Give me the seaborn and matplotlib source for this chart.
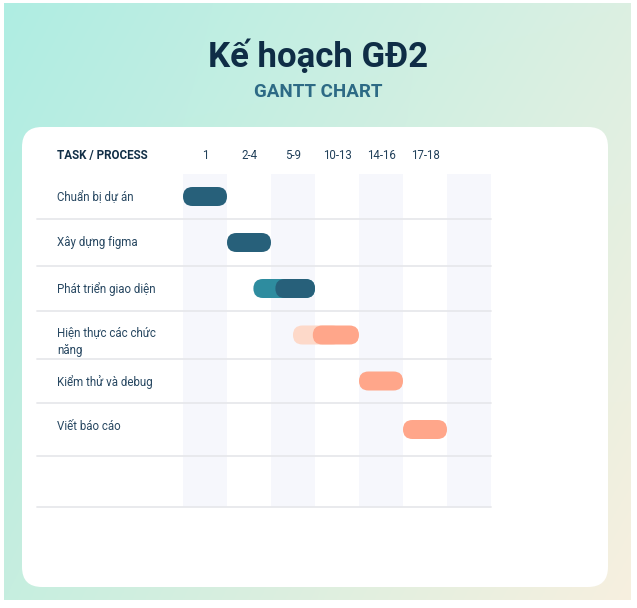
import numpy as np
import pandas as pd
import seaborn as sns
import matplotlib.pyplot as plt
from matplotlib.patches import FancyBboxPatch
from matplotlib.colors import to_rgb

# Data
tasks = ["Chuẩn bị dự án", "Xây dựng figma", "Phát triển giao diện",
         "Hiện thực các chức\nnăng", "Kiểm thử và debug", "Viết báo cáo"]
periods = ["1", "2-4", "5-9", "10-13", "14-16", "17-18"]
task_start = [0, 1, 2.1, 2.95, 4, 5]
task_end = [1, 2, 3, 4, 5, 6]
# lighter lead-in bars behind two of the tasks
lead_tasks = ["Phát triển giao diện", "Hiện thực các chức\nnăng"]
lead_start = [1.6, 2.5]
lead_end = [3.0, 3.6]

# Colours
DARK = "#27607a"
TEAL = "#2e8c9f"
PEACH = "#ffa68a"
LIGHT_PEACH = "#fdd9c9"
bar_colors = [DARK, DARK, DARK, PEACH, PEACH, PEACH]
lead_colors = [TEAL, LIGHT_PEACH]
STRIPE = "#f6f7fc"
RULE = "#e7e8ec"

# Layout (pixels)
W, H = 637, 608
N_COLS = 7
ROW_EDGES = [174, 219, 266, 311, 359, 403, 456, 507]
GX0, GX1 = 183, 491
PX_PER_COL = (GX1 - GX0) / N_COLS
BAR_H = 19
LINE_PITCH = 16

row_mid = [(a + b) / 2 for a, b in zip(ROW_EDGES[:-1], ROW_EDGES[1:])]
main_df = pd.DataFrame({"task": tasks, "start": task_start, "end": task_end,
                        "y": row_mid[:len(tasks)]})
main_df["dur"] = main_df["end"] - main_df["start"]
lead_df = pd.DataFrame({"task": lead_tasks, "start": lead_start, "end": lead_end})
lead_df["y"] = lead_df["task"].map(dict(zip(tasks, row_mid)))
lead_df["dur"] = lead_df["end"] - lead_df["start"]

sns.set_style("white")
plt.rcParams["font.family"] = ["Roboto", "DejaVu Sans"]

fig = plt.figure(figsize=(W / 100, H / 100), dpi=100)


def box(x0, y0, x1, y1):
    return [x0 / W, 1 - y1 / H, (x1 - x0) / W, (y1 - y0) / H]


# gradient backdrop
bg = fig.add_axes(box(4, 3, 631, 600))
bg.axis("off")
gx, gy = np.meshgrid(np.linspace(0, 1, 256), np.linspace(0, 1, 256))
tl, tr, bl, br = [np.array(to_rgb(c)) for c in ("#afede3", "#dcf0e2", "#c6eedf", "#f7f0df")]
img = (tl * ((1 - gx) * (1 - gy))[..., None] + tr * (gx * (1 - gy))[..., None]
       + bl * ((1 - gx) * gy)[..., None] + br * (gx * gy)[..., None])
bg.imshow(img, aspect="auto")

# overlay in pixel coordinates: card + texts
ov = fig.add_axes([0, 0, 1, 1])
ov.set_xlim(0, W)
ov.set_ylim(H, 0)
ov.axis("off")
ov.add_patch(FancyBboxPatch((22, 127), 586, 460, boxstyle="round,pad=0,rounding_size=20",
                            fc="white", ec="none"))
ov.text(318, 67, "Kế hoạch GĐ2", ha="center", va="baseline", fontsize=25,
        weight="bold", color="#0f2d46")
ov.text(318, 97, "GANTT CHART", ha="center", va="baseline", fontsize=13.5,
        weight="bold", color="#2d6a85")
ov.text(57, 159, "TASK / PROCESS", ha="left", va="baseline", fontsize=8.4,
        weight="bold", color="#122f47")
for i, t in enumerate(tasks):
    extra = t.count("\n") * LINE_PITCH
    ov.text(57, ROW_EDGES[i] + 27 + extra, t, ha="left", va="baseline", fontsize=8.3,
            color="#274761", linespacing=1.45)

# gantt grid
ax = fig.add_axes(box(GX0, ROW_EDGES[0], GX1, ROW_EDGES[-1]))
ax.set_zorder(2)
ax.patch.set_alpha(0)
for c in range(0, N_COLS, 2):
    ax.axvspan(c, c + 1, color=STRIPE, lw=0, zorder=0)
for e in ROW_EDGES[1:]:
    ax.axhline(e, xmin=(37 - GX0) / (GX1 - GX0), xmax=1, color=RULE, lw=1.3,
               clip_on=False, zorder=1)


def draw_bars(frame, colors):
    n0 = len(ax.patches)
    gap = np.min(np.diff(frame["y"])) if len(frame) > 1 else 1
    sns.barplot(data=frame, x="dur", y="y", orient="y", native_scale=True,
                width=BAR_H / gap, left=frame["start"].to_numpy(), errorbar=None,
                color="grey", ax=ax)
    r = BAR_H / 2 / PX_PER_COL
    for p, c in zip(list(ax.patches)[n0:], colors):
        ax.add_patch(FancyBboxPatch((p.get_x(), p.get_y()), p.get_width(), p.get_height(),
                                    boxstyle=f"round,pad=0,rounding_size={r}",
                                    mutation_aspect=PX_PER_COL, fc=c, ec="none", zorder=3))
        p.remove()


draw_bars(lead_df, lead_colors)
draw_bars(main_df, bar_colors)

ax.set_xlim(0, N_COLS)
ax.set_ylim(ROW_EDGES[-1], ROW_EDGES[0])
ax.set(xlabel="", ylabel="", xticks=[], yticks=[])
sns.despine(ax=ax, left=True, bottom=True)

for i, p in enumerate(periods):
    ax.text(i + 0.5, 159, p, ha="center", va="baseline", fontsize=8.3,
            color="#21405a", clip_on=False)

fig.savefig("out.png", dpi=100)
